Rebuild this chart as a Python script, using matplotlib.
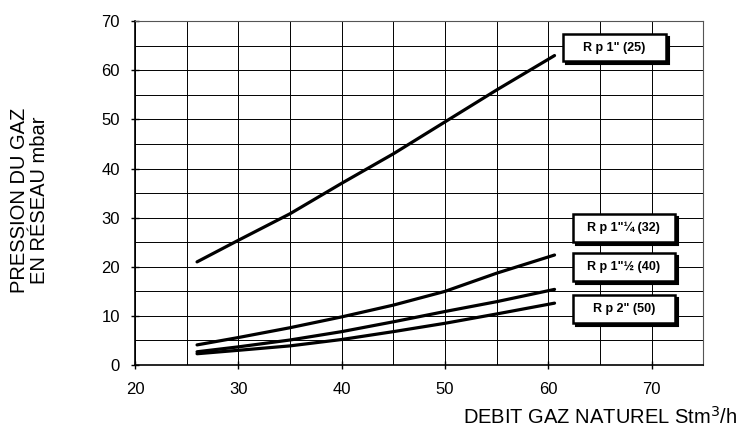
import matplotlib.pyplot as plt
from matplotlib.patches import Rectangle
from matplotlib import transforms

plt.rcParams['font.family'] = ['Liberation Sans', 'DejaVu Sans']

# debit (Stm3/h) and pressure drop (mbar) per pipe size
debit = [26, 30, 35, 40, 45, 50, 55, 60.6]
rp25 = [21, 25.4, 30.8, 37, 43, 49.5, 56, 63]
rp32 = [4.1, 5.6, 7.6, 9.8, 12.2, 15.0, 18.7, 22.4]
rp40 = [2.7, 3.7, 5.1, 6.8, 8.8, 10.9, 12.9, 15.4]
rp50 = [2.3, 3.0, 3.9, 5.2, 6.8, 8.5, 10.4, 12.6]

labels = ['R p 1" (25)', 'R p 1"\u00bc (32)', 'R p 1"\u00bd (40)', 'R p 2" (50)']
label_x = [66.4, 67.3, 67.3, 67.3]
label_y = [64.6, 27.9, 20.0, 11.4]

fig = plt.figure(figsize=(7.38, 4.32), dpi=100)
ax = fig.add_axes([0.183, 0.155, 0.770, 0.796])

for series in (rp25, rp32, rp40, rp50):
    ax.plot(debit, series, color='black', lw=2.3, solid_capstyle='round', zorder=3)

ax.set_xlim(20, 75)
ax.set_ylim(0, 70)
ax.set_xticks(range(20, 71, 10))
ax.set_yticks(range(0, 71, 10))
ax.set_xticks(range(20, 76, 5), minor=True)
ax.set_yticks(range(0, 71, 5), minor=True)
ax.grid(which='both', color='black', lw=0.7)
ax.tick_params(which='major', direction='inout', length=6, width=1, labelsize=12)
ax.tick_params(axis='y', pad=8)
ax.tick_params(axis='x', pad=9)
ax.tick_params(which='minor', length=0)
for side in ('top', 'right'):
    ax.spines[side].set_color('#555555')
for side in ('left', 'bottom'):
    ax.spines[side].set_linewidth(1.2)

# boxed labels with drop shadow
box_w, box_h = 9.9, 5.6
shadow = transforms.offset_copy(ax.transData, fig=fig, x=3, y=-3, units='dots')
for text, lx, ly in zip(labels, label_x, label_y):
    ax.add_patch(Rectangle((lx - box_w / 2, ly - box_h / 2), box_w, box_h,
                           transform=shadow, fc='black', ec='black', lw=1.5, zorder=4))
    ax.add_patch(Rectangle((lx - box_w / 2, ly - box_h / 2), box_w, box_h,
                           fc='white', ec='black', lw=1.8, zorder=5))
    ax.text(lx, ly, text, ha='center', va='center', fontsize=9, fontweight='bold', zorder=6)

fig.text(0.040, 0.537, 'PRESSION DU GAZ\nEN RÉSEAU mbar', rotation=90,
         ha='center', va='center', fontsize=14.5, linespacing=1.05)
fig.text(0.999, 0.01, 'DEBIT GAZ NATUREL Stm$^3$/h', ha='right', va='bottom', fontsize=14.5)

fig.savefig('out.png', dpi=100)
